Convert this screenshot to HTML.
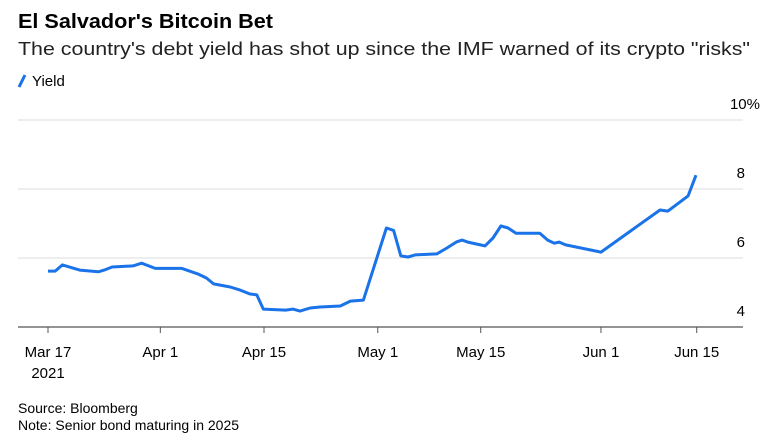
<!DOCTYPE html>
<html><head><meta charset="utf-8"><style>
html,body{margin:0;padding:0;background:#fff;}
svg{display:block;font-family:"Liberation Sans",Arial,sans-serif;}
</style></head><body>
<svg id="chart" width="767" height="445" viewBox="0 0 767 445">
<text x="18" y="28" font-size="20" font-weight="bold" fill="#000" textLength="255" lengthAdjust="spacingAndGlyphs">El Salvador's Bitcoin Bet</text>
<text x="18" y="55" font-size="18" fill="#222" textLength="732" lengthAdjust="spacingAndGlyphs">The country's debt yield has shot up since the IMF warned of its crypto "risks"</text>
<g>
<line x1="19" y1="87" x2="25" y2="75" stroke="#1a73e8" stroke-width="3"/>
<text x="32" y="86" font-size="15" fill="#000">Yield</text>
</g>
<g id="grid"></g>
<g id="xaxis"></g>
<path id="line" fill="none" stroke="#1a73e8" stroke-width="3" stroke-linejoin="round"/>
<text x="18" y="413" font-size="14" fill="#000">Source: Bloomberg</text>
<text x="18" y="430" font-size="14" fill="#000">Note: Senior bond maturing in 2025</text>
</svg>
<script>
const days=[0,1,2,4.4,7,7.8,8.9,11.8,13,14.9,18.6,20.8,22,23,25.3,26.7,28,29,29.9,33,34,35,36.4,37.8,40.6,42,43.8,47,48,49,50,51,54,55.4,56.7,57.5,58.3,60.7,61.8,62.9,63.9,65,68.3,69.4,70.3,71,71.9,76.8,85,86.1,88.9,90];
const yields=[5.62,5.62,5.8,5.65,5.6,5.65,5.74,5.77,5.85,5.7,5.7,5.54,5.42,5.25,5.16,5.07,4.96,4.93,4.52,4.49,4.52,4.46,4.55,4.58,4.61,4.75,4.78,6.87,6.8,6.06,6.03,6.09,6.12,6.29,6.46,6.52,6.46,6.35,6.58,6.93,6.87,6.72,6.72,6.52,6.43,6.46,6.38,6.17,7.39,7.36,7.8,8.4];
const yTicks=[4,6,8,10];
const yTickLabels=["4","6","8","10%"];
const xTickDays=[0,15.6,30,45.8,60.1,76.8,90.1];
const xTickLabels=["Mar 17","Apr 1","Apr 15","May 1","May 15","Jun 1","Jun 15"];
const ns="http://www.w3.org/2000/svg";
const X=d=>48+d*(648/90);
const Y=v=>327-(v-4)*34.5;
const grid=document.getElementById('grid'),xa=document.getElementById('xaxis');
yTicks.forEach((t,i)=>{
 const l=document.createElementNS(ns,'line');
 l.setAttribute('x1',18);l.setAttribute('x2',743);l.setAttribute('y1',Y(t));l.setAttribute('y2',Y(t));
 l.setAttribute('stroke',t===4?'#555':'#e8e8e8');l.setAttribute('stroke-width',t===4?1.2:1.5);
 
 
 grid.appendChild(l);
 const tx=document.createElementNS(ns,'text');
 tx.setAttribute('x',t===10?760:745);tx.setAttribute('y',Y(t)-(t===10?11:11));
 tx.setAttribute('text-anchor','end');tx.setAttribute('font-size','15');
 tx.textContent=yTickLabels[i];
 
 
 grid.appendChild(tx);
});
xTickDays.forEach((d,i)=>{
 const l=document.createElementNS(ns,'line');
 l.setAttribute('x1',X(d));l.setAttribute('x2',X(d));l.setAttribute('y1',327);l.setAttribute('y2',333);
 l.setAttribute('stroke','#555');
 
 
 xa.appendChild(l);
 const tx=document.createElementNS(ns,'text');
 tx.setAttribute('x',X(d));tx.setAttribute('y',357);tx.setAttribute('text-anchor','middle');tx.setAttribute('font-size','15');
 tx.textContent=xTickLabels[i];
 
 
 xa.appendChild(tx);
});
const yr=document.createElementNS(ns,'text');
yr.setAttribute('x',X(0));yr.setAttribute('y',378);yr.setAttribute('text-anchor','middle');yr.setAttribute('font-size','15');
yr.textContent='2021';


xa.appendChild(yr);
document.getElementById('line').setAttribute('d',days.map((d,i)=>(i?'L':'M')+X(d).toFixed(1)+','+Y(yields[i]).toFixed(1)).join(''));
</script>
</body></html>
